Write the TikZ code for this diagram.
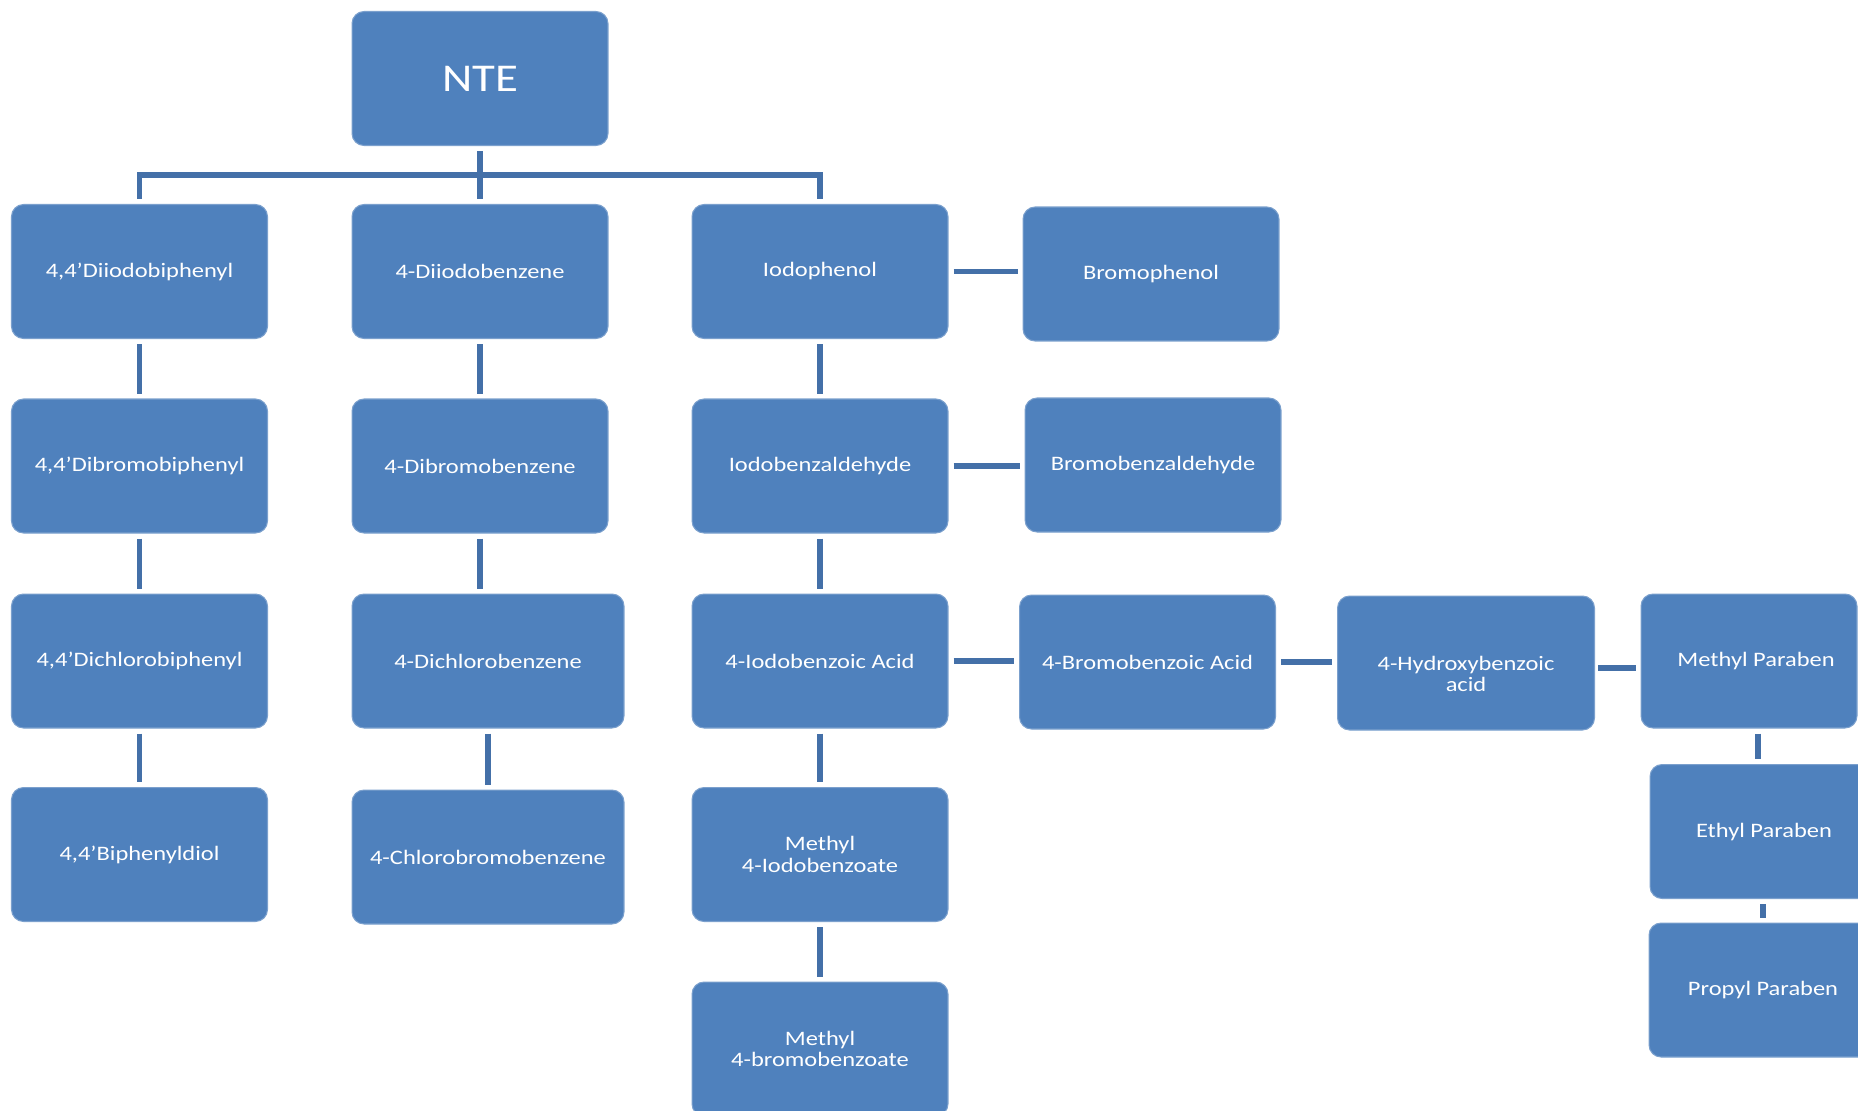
\documentclass[tikz,border=0pt]{standalone}
\usepackage{fontspec}
\setmainfont{Carlito}[FakeStretch=1.19]
\definecolor{boxblue}{RGB}{79,129,189}
\definecolor{linkblue}{RGB}{68,112,168}
\tikzset{
  chem/.style={fill=boxblue,draw=boxblue!75!white,line width=0.6pt,
    rounded corners=0.24cm,minimum width=5.12cm,minimum height=2.68cm,
    text=white,align=center,inner sep=2pt,
    font=\fontsize{11.7}{12.3}\selectfont},
  chemtext/.style={text=white,align=center,font=\fontsize{11.7}{12.3}\selectfont},
  link/.style={draw=linkblue,line width=0.11cm,shorten <=0.1cm,shorten >=0.1cm},
}

\begin{document}
\begin{tikzpicture}[x=0.02cm,y=-0.02cm]
  \useasboundingbox (0,0) rectangle (1858,1110);
  \node[chem] (nte) at (480,78.5) {\fontsize{22.4}{26}\selectfont NTE};
  \coordinate (bus) at (480,175);
  % biphenyl column
  \node[chem] (diiodobiph) at (139.5,271.5) {4,4’Diiodobiphenyl};
  \node[chem] (dibromobiph) at (139.5,466) {4,4’Dibromobiphenyl};
  \node[chem] (dichlorobiph) at (139.5,661) {4,4’Dichlorobiphenyl};
  \node[chem] (biphdiol) at (139.5,854.5) {4,4’Biphenyldiol};
  % benzene column
  \node[chem] (diiodobenz) at (480,271.5) {4-Diiodobenzene};
  \node[chem] (dibromobenz) at (480,466) {4-Dibromobenzene};
  \node[chem,minimum width=5.44cm] (dichlorobenz) at (488,661) {4-Dichlorobenzene};
  \node[chem,minimum width=5.44cm] (chlorobromobenz) at (488,857) {4-Chlorobromobenzene};
  % phenol column
  \node[chem] (iodophenol) at (820,271.5) {Iodophenol};
  \node[chem] (iodobenzald) at (820,466) {Iodobenzaldehyde};
  \node[chem] (iodobenzoic) at (820,661) {4-Iodobenzoic Acid};
  \node[chem] (meiodobenzoate) at (820,854.5) {Methyl\\4-Iodobenzoate};
  \node[chem] (mebromobenzoate) at (820,1049) {Methyl\\4-bromobenzoate};
  % bromo side
  \node[chem] (bromophenol) at (1151,274) {Bromophenol};
  \node[chem] (bromobenzald) at (1153,465) {Bromobenzaldehyde};
  \node[chem] (bromobenzoic) at (1147.5,662) {4-Bromobenzoic Acid};
  \node[chem,minimum width=5.14cm,
    label={[chemtext,yshift=-0.22cm]center:4-Hydroxybenzoic\\acid}]
    (hydroxybenzoic) at (1466,663) {};
  % parabens
  \node[chem,minimum width=4.32cm] (meparaben) at (1749,661) {\hspace*{8pt}Methyl Paraben};
  \node[chem,minimum width=4.56cm] (etparaben) at (1764,831.5) {Ethyl Paraben};
  \node[chem,minimum width=4.56cm] (prparaben) at (1763,990) {Propyl Paraben};

  \draw[link] (nte.south) -- (diiodobenz.north);
  \draw[link] (diiodobiph.north) |- (bus) -| (iodophenol.north);
  \foreach \a/\b in {diiodobiph/dibromobiph,dibromobiph/dichlorobiph,dichlorobiph/biphdiol,
      diiodobenz/dibromobenz,dibromobenz/dichlorobenz,dichlorobenz/chlorobromobenz,
      iodophenol/iodobenzald,iodobenzald/iodobenzoic,iodobenzoic/meiodobenzoate,
      meiodobenzoate/mebromobenzoate}
    \draw[link] (\a.south) -- (\a.south |- \b.north);
  \draw[link] ([xshift=0.18cm]meparaben.south) -- ([xshift=0.18cm]meparaben.south |- etparaben.north);
  \draw[link] (prparaben.north |- etparaben.south) -- (prparaben.north);
  \foreach \a/\b in {iodophenol/bromophenol,iodobenzald/bromobenzald,iodobenzoic/bromobenzoic,
      bromobenzoic/hydroxybenzoic}
    \draw[link] (\a.east) -- (\a.east -| \b.west);
  \draw[link,shorten <=0.06cm] ([yshift=-0.1cm]hydroxybenzoic.east) -- ([yshift=-0.1cm]hydroxybenzoic.east -| meparaben.west);
\end{tikzpicture}
\end{document}
